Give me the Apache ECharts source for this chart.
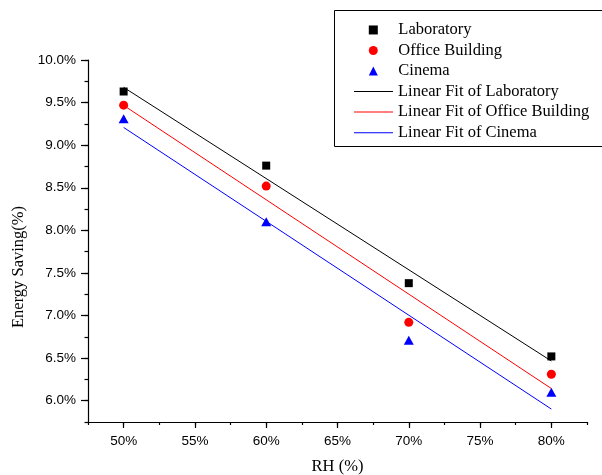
<!DOCTYPE html>
<html>
<head>
<meta charset="utf-8">
<script src="https://cdn.jsdelivr.net/npm/echarts@6/dist/echarts.min.js"></script>
<style>
html,body{margin:0;padding:0;background:#fff;}
#chart{width:602px;height:475px;}
</style>
</head>
<body>
<div id="chart"></div>
<script>
// ---- data ----
var rh = [50, 60, 70, 80];
var laboratory = [9.63, 8.76, 7.38, 6.52];
var officeBuilding = [9.47, 8.52, 6.92, 6.31];
var cinema = [9.31, 8.10, 6.71, 6.10];
var seriesNames = ['Laboratory', 'Office Building', 'Cinema'];
var fitNames = ['Linear Fit of Laboratory', 'Linear Fit of Office Building', 'Linear Fit of Cinema'];
var xTickLabels = [50, 55, 60, 65, 70, 75, 80];
var yTickLabels = [6.0, 6.5, 7.0, 7.5, 8.0, 8.5, 9.0, 9.5, 10.0];

function pairs(xs, ys) { return xs.map(function (x, i) { return [x, ys[i]]; }); }
function linearFit(xs, ys) {
  var n = xs.length, mx = 0, my = 0;
  for (var i = 0; i < n; i++) { mx += xs[i]; my += ys[i]; }
  mx /= n; my /= n;
  var sxx = 0, sxy = 0;
  for (var j = 0; j < n; j++) { sxx += (xs[j] - mx) * (xs[j] - mx); sxy += (xs[j] - mx) * (ys[j] - my); }
  var b = sxy / sxx, a = my - b * mx;
  var x0 = xs[0], x1 = xs[n - 1];
  return [[x0, a + b * x0], [x1, a + b * x1]];
}

var serif = 'Liberation Serif';
var sans = 'Liberation Sans';
var colors = ['#000000', '#ff0000', '#0000ff'];
var values = [laboratory, officeBuilding, cinema];
var symbols = ['rect', 'circle', 'triangle'];
var sizes = [8, 9, [10, 9]];

var series = [];
for (var k = 0; k < 3; k++) {
  series.push({
    name: seriesNames[k], type: 'scatter', xAxisIndex: 0, yAxisIndex: 0,
    symbol: symbols[k], symbolSize: sizes[k],
    itemStyle: { color: colors[k], opacity: 1 },
    data: pairs(rh, values[k]), z: 3
  });
}
for (var m = 0; m < 3; m++) {
  series.push({
    name: fitNames[m], type: 'line', xAxisIndex: 0, yAxisIndex: 0,
    symbol: 'none', showSymbol: false,
    lineStyle: { color: colors[m], width: 1 },
    itemStyle: { color: colors[m] },
    data: linearFit(rh, values[m]), z: 2
  });
}

var lineIcon = 'path://M0,0H40V1H0Z';

var chart = echarts.init(document.getElementById('chart'), null, { renderer: 'canvas' });
chart.setOption({
  animation: false,
  backgroundColor: '#fff',
  grid: { left: 88, top: 60, width: 499, height: 362, containLabel: false, outerBoundsMode: 'none' },
  xAxis: [{
    type: 'value', min: 47.5, max: 82.5, interval: 2.5, position: 'bottom',
    name: 'RH (%)', nameLocation: 'middle', nameGap: 36,
    nameTextStyle: { fontFamily: serif, fontSize: 16.5, color: '#000' },
    axisLine: { show: true, onZero: false, lineStyle: { color: '#000', width: 1.2 } },
    axisTick: { show: true, inside: false, length: 6, customValues: xTickLabels, lineStyle: { color: '#000', width: 1.2 } },
    axisLabel: { show: true, margin: 12, customValues: xTickLabels, fontFamily: sans, fontSize: 13.5, color: '#000',
      formatter: function (v) { return v + '%'; } },
    splitLine: { show: false }
  }, {
    type: 'value', min: 47.5, max: 82.5, interval: 2.5, position: 'bottom',
    axisLine: { show: false, onZero: false },
    axisTick: { show: true, inside: false, length: 3, lineStyle: { color: '#000', width: 1.2 } },
    axisLabel: { show: false },
    splitLine: { show: false }
  }],
  yAxis: [{
    type: 'value', min: 5.75, max: 10, interval: 0.25, position: 'left',
    name: 'Energy Saving(%)', nameLocation: 'middle', nameGap: 58, nameRotate: 90,
    nameTextStyle: { fontFamily: serif, fontSize: 16.5, color: '#000', padding: [0, 52, 0, 0] },
    axisLine: { show: true, onZero: false, lineStyle: { color: '#000', width: 1.2 } },
    axisTick: { show: true, inside: false, length: 7, customValues: yTickLabels, lineStyle: { color: '#000', width: 1.2 } },
    axisLabel: { show: true, margin: 12, customValues: yTickLabels, fontFamily: sans, fontSize: 13.5, color: '#000',
      formatter: function (v) { return v.toFixed(1) + '%'; } },
    splitLine: { show: false }
  }, {
    type: 'value', min: 5.75, max: 10, interval: 0.25, position: 'left', offset: 0,
    axisLine: { show: false, onZero: false },
    axisTick: { show: true, inside: false, length: 3.5, lineStyle: { color: '#000', width: 1.2 } },
    axisLabel: { show: false },
    splitLine: { show: false }
  }],
  legend: [{
    data: seriesNames, orient: 'vertical', left: 363.8, top: 14.7, padding: 5,
    itemWidth: 9, itemHeight: 9, itemGap: 0, selectedMode: false,
    itemStyle: { opacity: 1 },
    textStyle: { fontFamily: serif, fontSize: 16.5, color: '#000', lineHeight: 20.54, padding: [0, 0, 0, 15.5] }
  }, {
    data: fitNames.map(function (n) { return { name: n, icon: lineIcon }; }),
    orient: 'vertical', left: 349, top: 76.3, padding: 5,
    itemWidth: 39, itemHeight: 1.2, itemGap: 0, selectedMode: false,
    textStyle: { fontFamily: serif, fontSize: 16.5, color: '#000', lineHeight: 20.54 }
  }],
  graphic: [{
    type: 'rect', z: 0, silent: true,
    shape: { x: 334.5, y: 10.5, width: 300, height: 136 },
    style: { fill: 'none', stroke: '#000', lineWidth: 1 }
  }],
  series: series
});
</script>
</body>
</html>
